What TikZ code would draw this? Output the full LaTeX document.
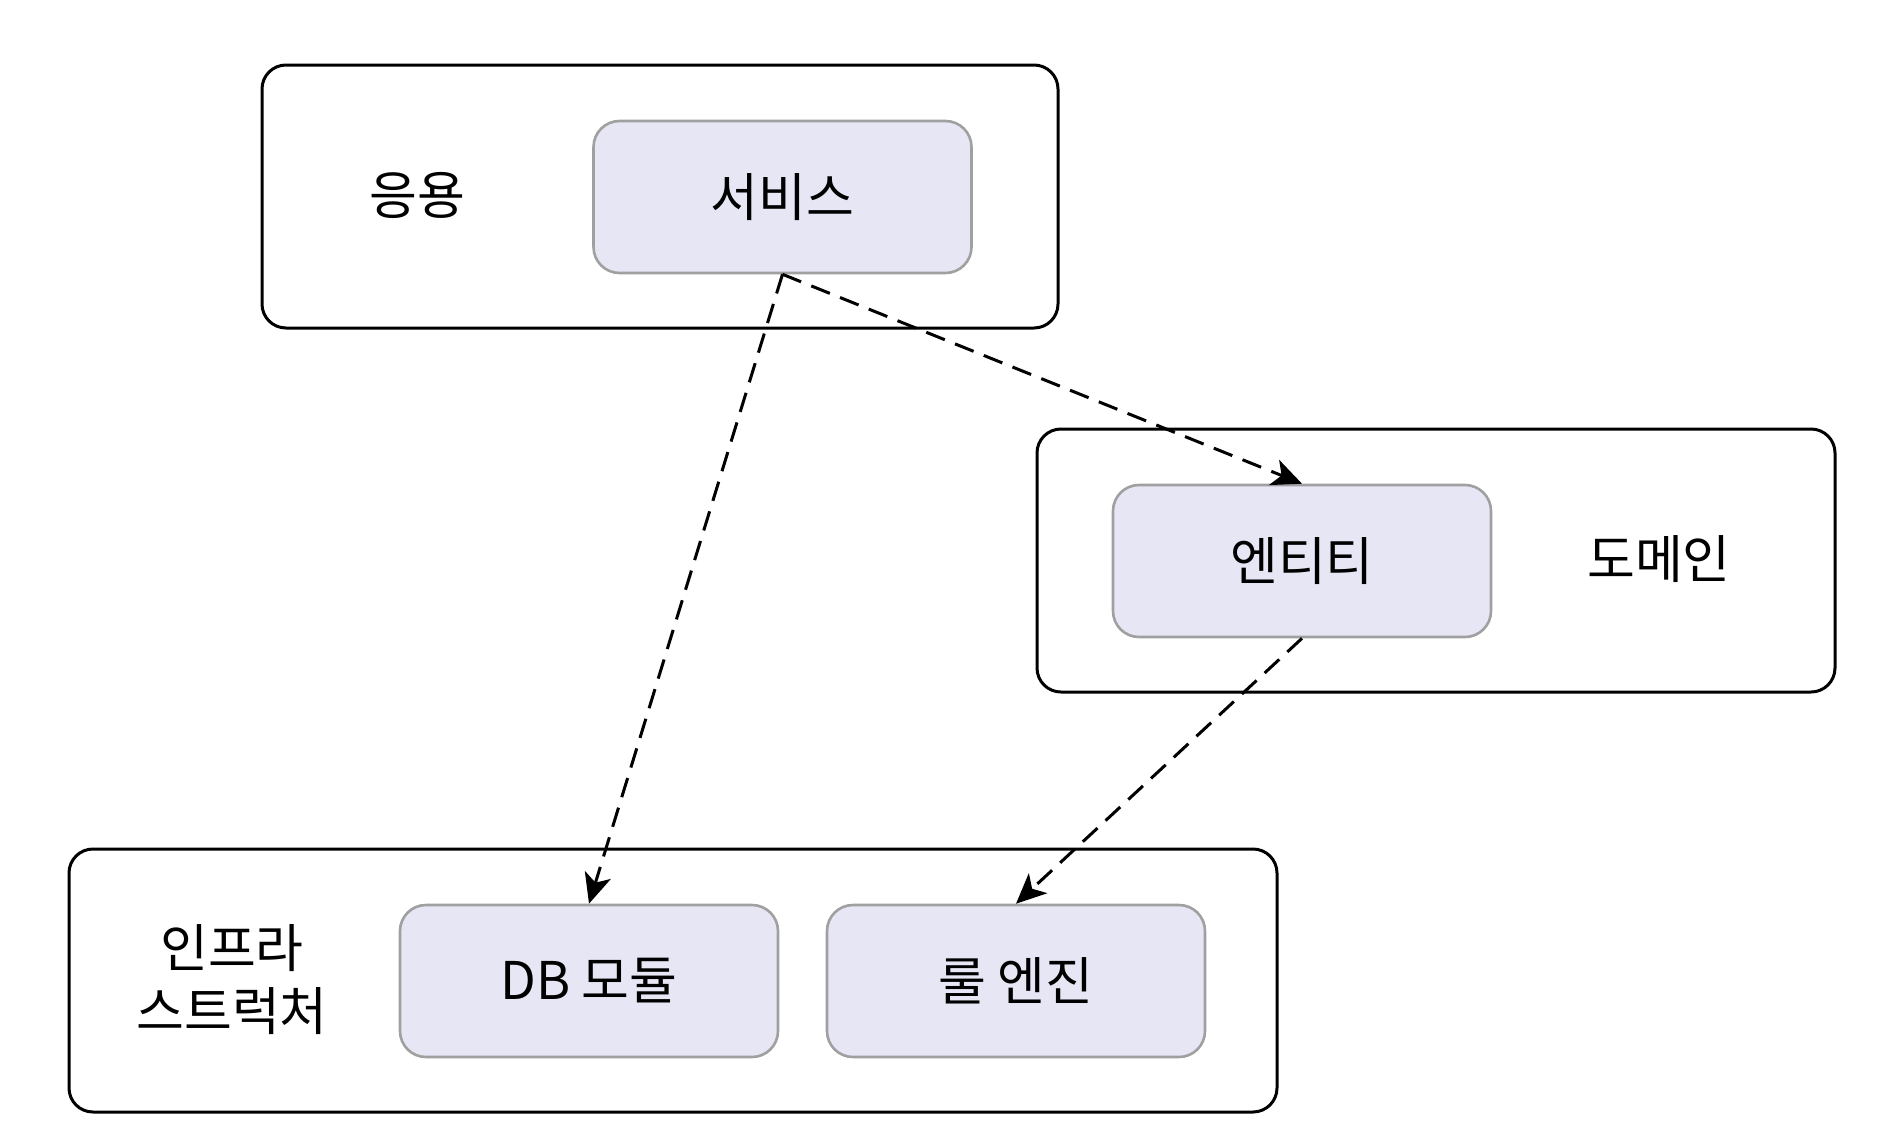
\documentclass[tikz,border=0pt]{standalone}
\usepackage{fontspec}
\setmainfont{Noto Sans CJK KR}
\usetikzlibrary{arrows.meta}
\definecolor{modfill}{RGB}{230,230,245}
\definecolor{modline}{RGB}{160,160,160}

\begin{document}
\begin{tikzpicture}[x=1pt,y=-1pt,
  layer/.style={draw,line width=3pt,rounded corners=24pt,inner sep=0pt,minimum height=263pt},
  layername/.style={align=center,font=\fontsize{52}{63}\selectfont},
  module/.style={draw=modline,fill=modfill,line width=2.6pt,rounded corners=26pt,inner sep=0pt,
    minimum width=378pt,minimum height=152pt,font=\fontsize{52}{60}\selectfont},
  dep/.style={line width=3pt,dash pattern=on 20pt off 11pt,
    -{Stealth[length=30pt,width=27pt,inset=8pt]}}]
\useasboundingbox (0,0) rectangle (1885,1136);

% the three layers
\node[layer,minimum width=796pt] (app) at (660,196.5) {};
\node[layer,minimum width=798pt] (domain) at (1436,560.5) {};
\node[layer,minimum width=1208pt] (infra) at (673,980.5) {};

% names of the layers
\node[layername] (appname) at (417,195) {응용};
\node[layername] (domainname) at (1659,559) {도메인};
\node[layername] (infraname) at (232,980) {인프라\\스트럭처};

% the modules inside the layers
\foreach \name/\pos/\texto in {service/{782.5,197}/서비스,entity/{1302,561}/엔티티,
  db/{589,981}/{DB 모듈},rule/{1016,981}/{룰 엔진}}
{
  \node[module] (\name) at (\pos) {\texto};
}

% dependencies
\draw[dep] (service.south) -- (entity.north);
\draw[dep] (service.south) -- (db.north);
\draw[dep] (entity.south) -- (rule.north);
\end{tikzpicture}
\end{document}
